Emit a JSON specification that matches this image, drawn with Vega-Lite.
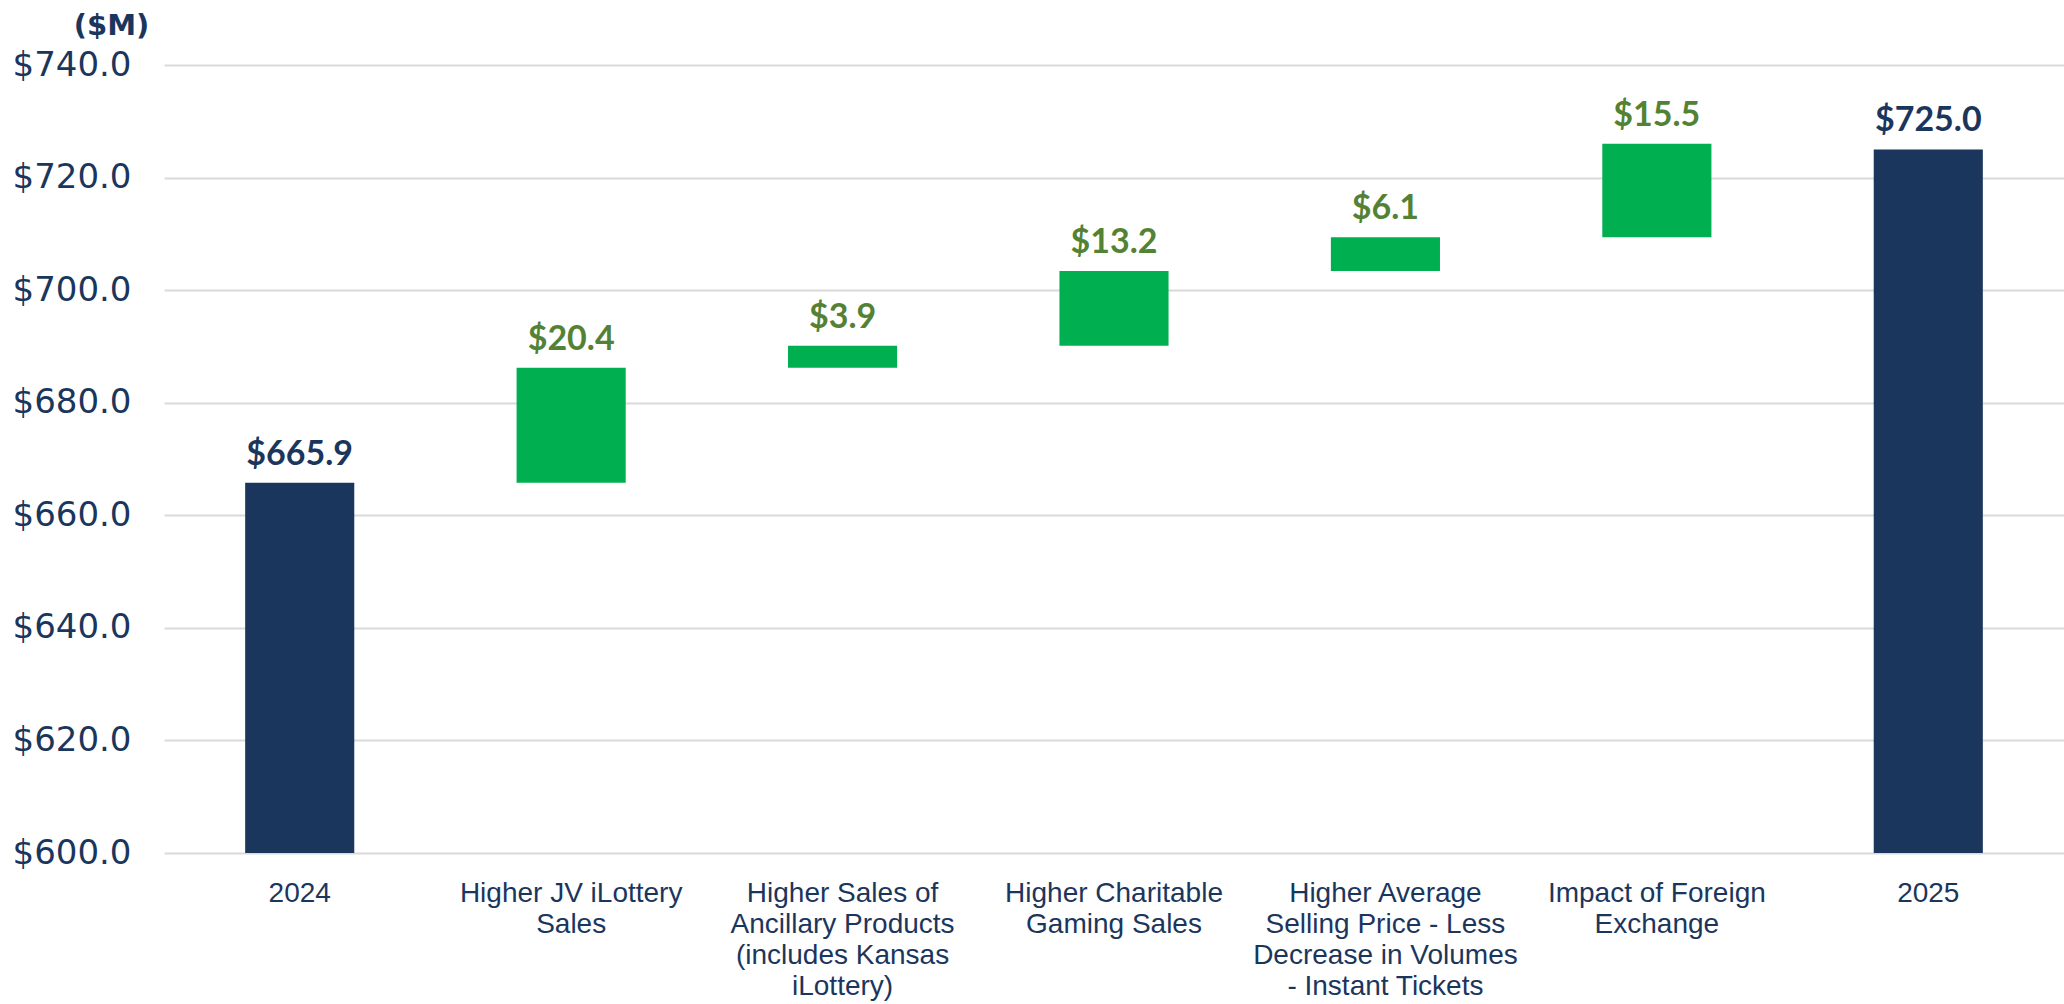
{
  "$schema": "https://vega.github.io/schema/vega-lite/v6.json",
  "autosize": {"type": "none"},
  "width": 1900,
  "height": 788,
  "padding": {"left": 164, "top": 65, "right": 0, "bottom": 151},
  "background": "#ffffff",
  "config": {"view": {"stroke": null}},
  "data": {
    "values": [
      {"cat": "2024", "start": 0, "end": 665.8, "amount": 665.9, "kind": "total"},
      {"cat": "Higher JV iLottery|Sales", "start": 665.8, "end": 686.2, "amount": 20.4, "kind": "delta"},
      {"cat": "Higher Sales of|Ancillary Products|(includes Kansas|iLottery)", "start": 686.2, "end": 690.1, "amount": 3.9, "kind": "delta"},
      {"cat": "Higher Charitable|Gaming Sales", "start": 690.1, "end": 703.4, "amount": 13.2, "kind": "delta"},
      {"cat": "Higher Average|Selling Price - Less|Decrease in Volumes|- Instant Tickets", "start": 703.4, "end": 709.4, "amount": 6.1, "kind": "delta"},
      {"cat": "Impact of Foreign|Exchange", "start": 709.4, "end": 726.0, "amount": 15.5, "kind": "delta"},
      {"cat": "2025", "start": 0, "end": 725.0, "amount": 725.0, "kind": "total"}
    ]
  },
  "encoding": {
    "x": {
      "field": "cat",
      "type": "nominal",
      "sort": null,
      "scale": {"paddingInner": 0.598, "paddingOuter": 0.299},
      "axis": {
        "title": null,
        "labelAngle": 0,
        "labelExpr": "split(datum.label, '|')",
        "labelFont": "Liberation Sans",
        "labelFontSize": 28,
        "labelLineHeight": 31,
        "labelColor": "#1b365d",
        "labelPadding": 26,
        "labelBaseline": "top",
        "labelLimit": 400,
        "domain": false,
        "ticks": false,
        "grid": false
      }
    }
  },
  "layer": [
    {
      "mark": {"type": "bar", "clip": true},
      "encoding": {
        "y": {
          "field": "start",
          "type": "quantitative",
          "scale": {"domain": [600, 740], "nice": false, "zero": false},
          "axis": {
            "values": [600, 620, 640, 660, 680, 700, 720, 740],
            "format": "$.1f",
            "labelFont": "DejaVu Sans",
            "labelFontSize": 34,
            "labelColor": "#1b365d",
            "labelPadding": 33,
            "domain": false,
            "ticks": false,
            "grid": true,
            "gridColor": "#d9d9d9",
            "gridWidth": 2,
            "title": "($M)",
            "titleAngle": 0,
            "titleFont": "DejaVu Sans",
            "titleFontWeight": "bold",
            "titleFontSize": 29,
            "titleColor": "#1b365d",
            "titleAlign": "center",
            "titleBaseline": "middle",
            "titleX": -53,
            "titleY": -40
          }
        },
        "y2": {"field": "end"},
        "color": {
          "condition": {"test": "datum.kind === 'total'", "value": "#1b365d"},
          "value": "#00b050"
        }
      }
    },
    {
      "mark": {
        "type": "text",
        "font": "Lato",
        "fontWeight": "bold",
        "fontSize": 34,
        "baseline": "alphabetic",
        "align": "center",
        "dy": -18
      },
      "encoding": {
        "y": {"field": "end", "type": "quantitative"},
        "text": {"field": "amount", "type": "quantitative", "format": "$.1f"},
        "color": {
          "condition": {"test": "datum.kind === 'total'", "value": "#1b365d"},
          "value": "#548235"
        }
      }
    }
  ]
}
